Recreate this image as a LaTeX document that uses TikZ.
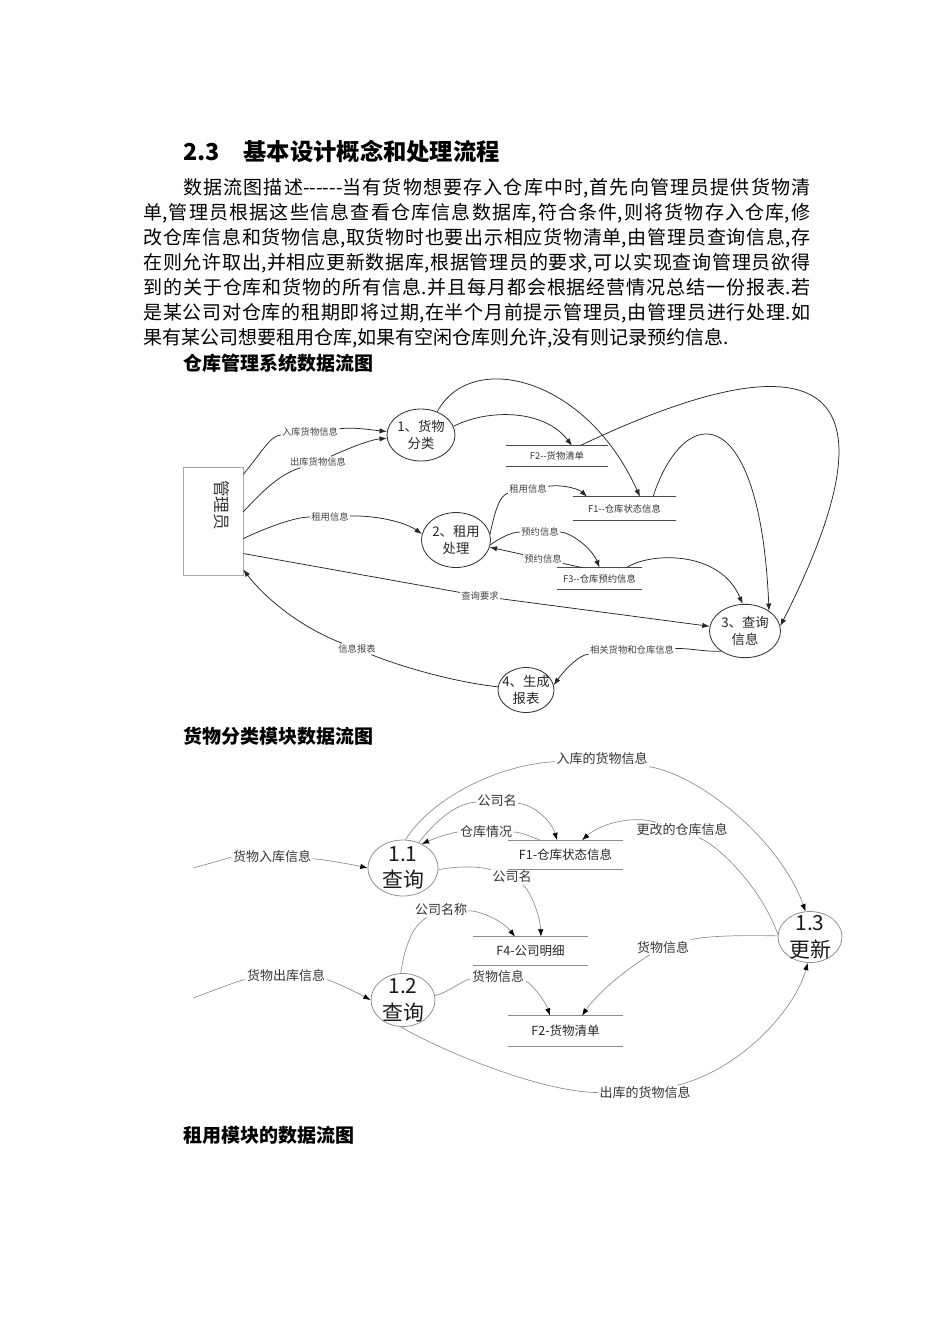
\documentclass[tikz,border=0pt]{standalone}
\usepackage{fontspec}
\setmainfont{Noto Sans CJK SC}
\usetikzlibrary{arrows.meta,shapes.geometric}

\begin{document}
\begin{tikzpicture}[x=0.6pt, y=-0.6pt,
    proc/.style={ellipse, draw=black!80, line width=0.5pt, inner sep=0pt},
    procb/.style={ellipse, draw=black!45, line width=0.45pt, inner sep=0pt},
    proctext/.style={font=\fontsize{8}{10}\selectfont, align=center, text=black!85},
    bigtext/.style={font=\fontsize{12.5}{16}\selectfont, align=center, text=black!90},
    store/.style={inner sep=0pt, font=\fontsize{5.6}{7}\selectfont, text=black!80},
    storeb/.style={inner sep=0pt, minimum width=69pt, minimum height=16.8pt, font=\fontsize{7.5}{9}\selectfont, text=black!85},
    lbl/.style={inner sep=0.6pt, font=\fontsize{5.6}{7}\selectfont, text=black!75},
    lblb/.style={inner sep=0.8pt, font=\fontsize{7.8}{9}\selectfont, text=black!80},
    flow/.style={draw=black!85, line width=0.45pt, -{Latex[length=4.4pt,width=3.2pt]}},
    flowb/.style={draw=black!45, line width=0.4pt, -{Latex[length=4.4pt,width=3.2pt,color=black]}},
    headline/.style={anchor=west, inner sep=0pt, font=\fontsize{11.4}{14}\selectfont\bfseries}]

    \useasboundingbox (0,0) rectangle (950,1344);

    % Draw heading and text
    \node[anchor=west, inner sep=0pt, font=\fontsize{14}{16}\selectfont\bfseries] (secnum) at (183,152) {2.3};
    \node[anchor=west, inner sep=0pt, font=\fontsize{14}{16}\selectfont\bfseries] (sectitle) at (243,152) {基本设计概念和处理流程};
    \node[anchor=north west, inner sep=0pt, text width=400.2pt, align=justify, font=\fontsize{11.4}{15}\selectfont] (body) at (143,178) {\XeTeXlinebreaklocale "zh"\XeTeXlinebreakskip=0pt plus 2pt\hspace*{24pt}数据流图描述-{}-{}-{}-{}-{}-当有货物想要存入仓库中时,首先向管理员提供货物清\linebreak 单,管理员根据这些信息查看仓库信息数据库,符合条件,则将货物存入仓库,修\linebreak 改仓库信息和货物信息,取货物时也要出示相应货物清单,由管理员查询信息,存\linebreak 在则允许取出,并相应更新数据库,根据管理员的要求,可以实现查询管理员欲得\linebreak 到的关于仓库和货物的所有信息.并且每月都会根据经营情况总结一份报表.若\linebreak 是某公司对仓库的租期即将过期,在半个月前提示管理员,由管理员进行处理.如\linebreak 果有某公司想要租用仓库,如果有空闲仓库则允许,没有则记录预约信息.};
    \node[headline] (title1) at (183,363) {仓库管理系统数据流图};
    \node[headline] (title2) at (183,736) {货物分类模块数据流图};
    \node[headline] (title3) at (183,1135) {租用模块的数据流图};

    % Draw system diagram
    \node[draw=black!35, line width=0.4pt, minimum width=36pt, minimum height=64.8pt, inner sep=0pt] (mgr) at (213,521) {};
    \node[rotate=-90, font=\fontsize{10}{12}\selectfont, text=black!80] (mgrname) at (222,505) {管理员};
    \node[proc, minimum width=40.8pt, minimum height=31.2pt, label={[proctext]center:1、货物\\分类}] (p1) at (421,435) {};
    \node[proc, minimum width=41.4pt, minimum height=33pt, label={[proctext]center:2、租用\\处理}] (p2) at (456,540) {};
    \node[proc, minimum width=42.6pt, minimum height=32pt, label={[proctext]center:3、查询\\信息}] (p3) at (745,631) {};
    \node[proc, minimum width=33.6pt, minimum height=27pt, label={[proctext]center:4、生成\\报表}] (p4) at (526,690) {};

    \node[store, minimum width=61.2pt, minimum height=12pt] (f2) at (557,456) {F2-{}-货物清单};
    \node[store, minimum width=61.8pt, minimum height=13.8pt] (f1) at (624.5,508.5) {F1-{}-仓库状态信息};
    \node[store, minimum width=51pt, minimum height=12.6pt] (f3) at (599.5,578.5) {F3-{}-仓库预约信息};
    \foreach \s in {f1,f2,f3}
        \draw[black!70, line width=0.45pt] (\s.north west) -- (\s.north east) (\s.south west) -- (\s.south east);

    \node[lbl] (lin) at (310,432) {入库货物信息};
    \node[lbl] (lout) at (318,462) {出库货物信息};
    \node[lbl] (lrent) at (330,517) {租用信息};
    \node[lbl] (lquery) at (480,596) {查询要求};
    \node[lbl] (lreport) at (357,649) {信息报表};
    \node[lbl] (lrel) at (632,650) {相关货物和仓库信息};
    \node[lbl] (lrent2) at (528,489) {租用信息};
    \node[lbl] (lres1) at (540,532) {预约信息};
    \node[lbl] (lres2) at (543,559) {预约信息};

    \draw[flow] (mgr.57) .. controls (262,452) and (270,436) .. (lin) .. controls (355,427) and (372,430) .. (p1);
    \draw[flow] (mgr.17) .. controls (262,492) and (278,475) .. (lout) .. controls (345,450) and (368,440) .. (p1);
    \draw[flow] (mgr.-30) .. controls (268,527) and (295,517) .. (lrent) .. controls (375,515) and (405,522) .. (p2.170);
    \draw[flow] (mgr.-47) -- (lquery) -- (p3);
    \draw[flow] (p4) .. controls (455,682) and (405,668) .. (lreport) .. controls (300,627) and (265,598) .. (mgr.-58);
    \draw[flow] (p3.220) .. controls (705,652) and (690,648) .. (lrel) .. controls (578,655) and (563,672) .. (p4.10);
    \draw[flow] (p1.55) .. controls (470,350) and (585,375) .. ([xshift=9.3pt]f1.north);
    \draw[flow] (p1.15) .. controls (490,408) and (545,410) .. ([xshift=9pt]f2.north);
    \draw[flow] ([xshift=13.8pt]f2.north) .. controls (760,360) and (930,330) .. (p3.8);
    \draw[flow] ([xshift=17.1pt]f1.north) .. controls (685,400) and (760,400) .. (p3.40);
    \draw[flow] ([xshift=16.2pt]f3.north) .. controls (650,552) and (720,550) .. (p3.95);
    \draw[flow] (p2.10) .. controls (495,510) and (500,495) .. (lrent2) .. controls (565,484) and (580,490) .. ([xshift=-22.5pt]f1.north);
    \draw[flow] (p2.-8) .. controls (497,540) and (510,532) .. (lres1) .. controls (570,532) and (592,548) .. (f3.north);
    \draw[flow] ([xshift=-10.2pt]f3.north) -- (lres2) -- (p2.-12);

    % Draw classification diagram
    \node[procb, minimum width=42pt, minimum height=33.6pt, label={[bigtext]center:1.1\\查询}] (q11) at (403,868) {};
    \node[procb, minimum width=38.4pt, minimum height=31.8pt, label={[bigtext]center:1.2\\查询}] (q12) at (403,1000) {};
    \node[procb, minimum width=38.4pt, minimum height=30.6pt, label={[bigtext]center:1.3\\更新}] (u13) at (810,937) {};

    \node[storeb] (s1) at (565.5,854.5) {F1-仓库状态信息};
    \node[storeb] (s4) at (530.5,951) {F4-公司明细};
    \node[storeb, minimum height=18pt] (s2) at (565.5,1031) {F2-货物清单};
    \foreach \s in {s1,s4,s2}
        \draw[black!45, line width=0.4pt] (\s.north west) -- (\s.north east) (\s.south west) -- (\s.south east);

    \node[lblb] (ain) at (602,759) {入库的货物信息};
    \node[lblb] (aco1) at (497,801) {公司名};
    \node[lblb] (awh) at (486,832) {仓库情况};
    \node[lblb] (achg) at (682,830) {更改的仓库信息};
    \node[lblb] (agin) at (272,857) {货物入库信息};
    \node[lblb] (aco2) at (512,877) {公司名};
    \node[lblb] (aconame) at (441,910) {公司名称};
    \node[lblb] (agds) at (663,947) {货物信息};
    \node[lblb] (agout) at (286,976) {货物出库信息};
    \node[lblb] (agds2) at (498,976) {货物信息};
    \node[lblb] (aoutg) at (645,1093) {出库的货物信息};
    \coordinate (srcin) at (193,868);
    \coordinate (srcout) at (193,998);

    \draw[flowb] (q11.85) .. controls (430,800) and (495,765) .. (ain) .. controls (700,775) and (780,840) .. (u13.100);
    \draw[flowb] (q11.58) .. controls (440,815) and (460,803) .. (aco1) .. controls (535,805) and (552,822) .. ([xshift=-5.1pt]s1.north);
    \draw[flowb] ([xshift=-15.3pt]s1.north) .. controls (530,836) and (520,832) .. (awh) .. controls (455,832) and (440,836) .. (q11.52);
    \draw[flowb] (u13.175) .. controls (762,890) and (722,848) .. (achg) .. controls (632,815) and (600,824) .. ([xshift=9.9pt]s1.north);
    \draw[flowb] (srcin) .. controls (215,862) and (232,857) .. (agin) .. controls (320,859) and (350,864) .. (q11.180);
    \draw[flowb] (q11.-3) .. controls (455,866) and (480,866) .. (aco2) .. controls (530,890) and (540,915) .. ([xshift=6.3pt]s4.north);
    \draw[flowb] (q12.95) .. controls (405,945) and (413,925) .. (aconame) .. controls (480,911) and (502,920) .. ([xshift=-9.3pt]s4.north);
    \draw[flowb] (srcout) .. controls (215,990) and (240,980) .. (agout) .. controls (330,980) and (352,990) .. (q12.180);
    \draw[flowb] (q12.8) .. controls (450,992) and (462,980) .. (agds2) .. controls (530,982) and (545,1000) .. ([xshift=-9.3pt]s2.north);
    \draw[flowb] (u13.178) .. controls (740,935) and (705,936) .. (agds) .. controls (628,968) and (598,992) .. ([xshift=9.9pt]s2.north);
    \draw[flowb] (q12.-95) .. controls (440,1050) and (540,1092) .. (aoutg) .. controls (740,1070) and (795,1010) .. (u13.-95);
\end{tikzpicture}
\end{document}
